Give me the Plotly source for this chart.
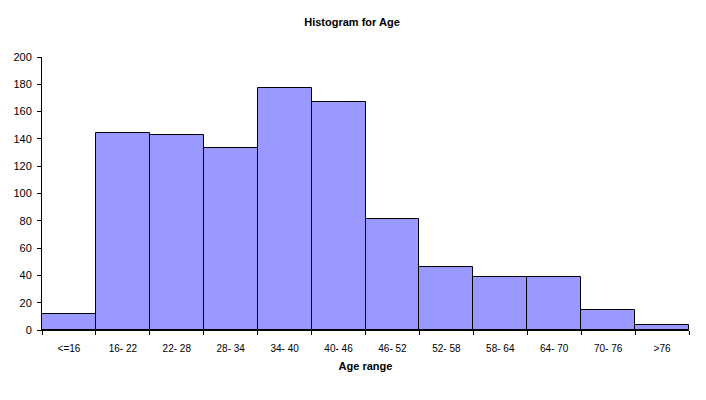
import plotly.graph_objects as go

categories = ["<=16", "16- 22", "22- 28", "28- 34", "34- 40", "40- 46",
              "46- 52", "52- 58", "58- 64", "64- 70", "70- 76", ">76"]
counts = [12, 144, 143, 133, 177, 167, 81, 46, 39, 39, 15, 4]
y_ticks = list(range(0, 201, 20))

fig = go.Figure(go.Bar(
    x=categories, y=counts,
    marker=dict(color="#9999FF", line=dict(color="black", width=1)),
))

font = "Liberation Sans, Arial, sans-serif"
# page body has a default 8px margin, so offsets compensate for it
fig.update_layout(
    width=706, height=400,
    margin=dict(l=34, r=25, t=49, b=78, autoexpand=False),
    paper_bgcolor="white", plot_bgcolor="white",
    bargap=0,
    showlegend=False,
    font=dict(family=font, size=11, color="black"),
    title=dict(text="<b>Histogram for Age</b>", x=344/706, xref="container",
               xanchor="center",
               y=1 - 14/400, yref="container", yanchor="middle",
               font=dict(family=font, size=11, color="black")),
)
fig.update_xaxes(
    type="category", range=[-0.5, 11.5],
    showline=True, linecolor="black", linewidth=1,
    ticks="outside", tickson="boundaries", ticklen=4, tickcolor="black",
    showgrid=False, zeroline=False,
    tickfont=dict(size=10), ticklabelstandoff=9,
    title=dict(text="<b>Age range</b>", font=dict(size=11), standoff=9),
)
fig.update_yaxes(
    range=[0, 200], tickvals=y_ticks,
    showline=True, linecolor="black", linewidth=1,
    ticks="outside", ticklen=4, tickcolor="black",
    showgrid=False, zeroline=False,
    tickfont=dict(size=11), ticklabelstandoff=3,
)

fig.write_html("out.html")
